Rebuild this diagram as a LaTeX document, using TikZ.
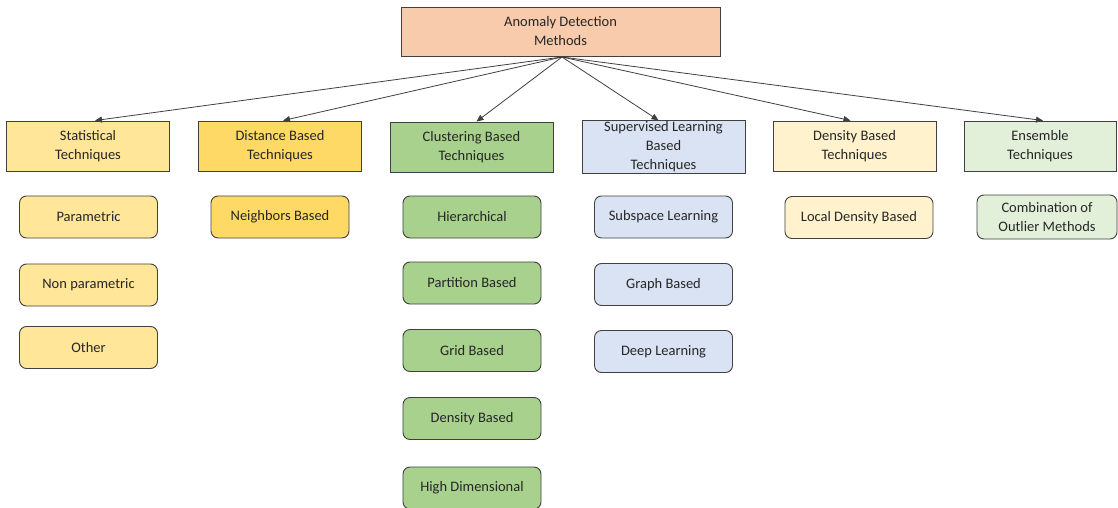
\documentclass[tikz,border=0pt]{standalone}
\usepackage{fontspec}
\setmainfont{Carlito}
\usetikzlibrary{arrows.meta}
\definecolor{rootc}{HTML}{F8CBAD}
\definecolor{statc}{HTML}{FFE699}
\definecolor{distc}{HTML}{FFD966}
\definecolor{clusc}{HTML}{A9D18E}
\definecolor{supc}{HTML}{DAE3F3}
\definecolor{densc}{HTML}{FFF2CC}
\definecolor{ensc}{HTML}{E2F0D9}
\definecolor{edgec}{HTML}{404040}
\tikzset{
  base/.style={draw=edgec, line width=0.9pt, align=center, inner sep=1pt,
    font=\fontsize{14.5}{19}\selectfont, text=black!85},
  cat/.style={base, minimum width=163pt, minimum height=50pt},
  leaf/.style={base, rounded corners=7pt, minimum width=138pt, minimum height=42pt},
  arr/.style={draw=edgec, line width=0.8pt, -{Triangle[length=7pt,width=6pt]}}
}
\begin{document}
\begin{tikzpicture}[x=1pt,y=-1pt]
\useasboundingbox[fill=white] (0,0) rectangle (1118,508);
\node[base, fill=rootc, minimum width=319pt, minimum height=49pt] (root) at (560.5,31.5) {Anomaly Detection\\Methods};

\node[cat, fill=statc] (stat) at (88,146) {Statistical\\Techniques};
\node[cat, fill=distc] (dist) at (280,146) {Distance Based\\Techniques};
\node[cat, fill=clusc] (clus) at (471.5,147) {Clustering Based\\Techniques};
\node[cat, fill=supc] (sup) at (663.5,147) {Supervised Learning\\Based\\Techniques};
\node[cat, fill=densc] (dens) at (854.5,146) {Density Based\\Techniques};
\node[cat, fill=ensc, minimum width=152pt] (ens) at (1040,146) {Ensemble\\Techniques};

\node[leaf, fill=statc] (param) at (88.5,217) {Parametric};
\node[leaf, fill=statc] (nonparam) at (88.5,285) {Non parametric};
\node[leaf, fill=statc] (other) at (88.5,347.5) {Other};

\node[leaf, fill=distc] (neigh) at (280,217) {Neighbors Based};

\node[leaf, fill=clusc] (hier) at (472,217) {Hierarchical};
\node[leaf, fill=clusc] (part) at (472,283) {Partition Based};
\node[leaf, fill=clusc] (grid) at (472,350.5) {Grid Based};
\node[leaf, fill=clusc] (cdens) at (472,418.5) {Density Based};
\node[leaf, fill=clusc] (high) at (472,488) {High Dimensional};

\node[leaf, fill=supc] (subsp) at (663.5,217) {Subspace Learning};
\node[leaf, fill=supc] (graph) at (663.5,284.5) {Graph Based};
\node[leaf, fill=supc] (deep) at (663.5,351.5) {Deep Learning};

\node[leaf, fill=densc, minimum width=148pt] (local) at (859,217.5) {Local Density Based};
\node[leaf, fill=ensc, minimum width=140pt, minimum height=44pt] (comb) at (1047,217) {Combination of\\Outlier Methods};

\coordinate (src) at (562,57);
\draw[arr] (src) -- ([xshift=7pt]stat.north);
\draw[arr] (src) -- ([xshift=3pt]dist.north);
\draw[arr] (src) -- ([xshift=5pt]clus.north);
\draw[arr] (src) -- ([xshift=-5pt]sup.north);
\draw[arr] (src) -- ([xshift=-4pt]dens.north);
\draw[arr] (src) -- ([xshift=3pt]ens.north);
\end{tikzpicture}
\end{document}
